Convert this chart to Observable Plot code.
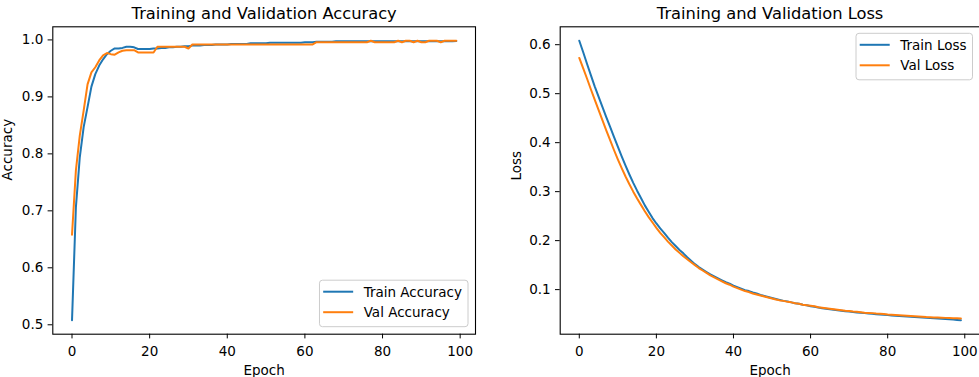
<!DOCTYPE html>
<html><head><meta charset="utf-8">
<script src="https://cdn.jsdelivr.net/npm/d3@7"></script>
<script src="https://cdn.jsdelivr.net/npm/@observablehq/plot@0.6"></script>
<style>
body{margin:0;background:#fff;overflow:hidden}
#wrap{position:relative;width:979px;height:377px;overflow:hidden;background:#fff}
#left,#right{position:absolute;top:0}
#left{left:0;width:490px}
#right{left:490px;width:500px}
svg{max-width:none !important}
</style></head><body><div id="wrap"><div id="left"></div><div id="right"></div></div>
<script>
const epochTicks = [0, 20, 40, 60, 80, 100];
const accTicks = [0.5, 0.6, 0.7, 0.8, 0.9, 1.0];
const lossTicks = [0.1, 0.2, 0.3, 0.4, 0.5, 0.6];

const trainAcc = [
  0.508,0.706,0.794,0.847,0.882,0.918,0.940,0.955,0.966,0.975,0.981,0.985,
  0.985,0.986,0.988,0.988,0.987,0.984,0.984,0.984,0.984,0.985,
  0.985,0.986,0.986,0.987,0.987,0.988,0.988,0.989,0.989,0.990,
  0.990,0.990,0.991,0.991,0.991,0.992,0.992,0.992,0.992,0.993,
  0.993,0.993,0.993,0.993,0.994,0.994,0.994,0.994,0.994,0.995,
  0.995,0.995,0.995,0.995,0.995,0.995,0.995,0.995,0.996,0.996,
  0.996,0.997,0.997,0.997,0.997,0.997,0.9975,0.9975,0.9975,0.9975,
  0.9975,0.9975,0.9975,0.9975,0.9975,0.9975,0.9975,0.9975,0.9975,0.9975,
  0.9975,0.9975,0.9975,0.9975,0.9975,0.9975,0.9975,0.9975,0.9975,0.9975,
  0.9975,0.9975,0.9975,0.9975,0.9975,0.9975,0.9975,0.998
];
const valAcc = [
  0.658,0.771,0.832,0.876,0.922,0.943,0.952,0.964,0.973,0.977,0.975,0.974,
  0.978,0.981,0.982,0.982,0.982,0.978,0.978,0.978,0.978,0.978,
  0.988,0.988,0.988,0.988,0.988,0.988,0.988,0.988,0.985,0.992,
  0.992,0.992,0.992,0.992,0.992,0.992,0.992,0.992,0.992,0.992,
  0.992,0.992,0.992,0.992,0.992,0.992,0.992,0.992,0.992,0.992,
  0.992,0.992,0.992,0.992,0.992,0.992,0.992,0.992,0.992,0.992,
  0.992,0.996,0.996,0.996,0.996,0.996,0.996,0.996,0.996,0.996,
  0.996,0.996,0.996,0.996,0.996,0.9985,0.996,0.996,0.996,0.996,
  0.996,0.996,0.9985,0.996,0.9985,0.9985,0.996,0.9985,0.996,0.996,
  0.9985,0.9985,0.9985,0.996,0.9985,0.9985,0.9985,0.9985
];
const trainLoss = [
  0.608,0.585,0.561,0.538,0.515,0.494,0.473,0.452,0.432,0.412,
  0.392,0.372,0.353,0.335,0.318,0.302,0.287,0.272,0.259,0.246,
  0.235,0.225,0.216,0.206,0.197,0.189,0.181,0.174,0.166,0.159,
  0.152,0.146,0.141,0.136,0.131,0.127,0.123,0.119,0.115,0.112,
  0.108,0.105,0.102,0.099,0.097,0.094,0.092,0.089,0.087,0.085,
  0.083,0.081,0.079,0.077,0.076,0.074,0.072,0.071,0.069,0.068,
  0.066,0.065,0.0635,0.062,0.061,0.060,0.059,0.058,0.057,0.056,
  0.0552,0.0544,0.0535,0.0527,0.052,0.0512,0.0505,0.0498,0.049,0.0485,
  0.048,0.0474,0.0468,0.0462,0.0456,0.045,0.0445,0.044,0.0435,0.043,
  0.0425,0.042,0.0415,0.041,0.0405,0.040,0.0395,0.0388,0.0381,0.0375
];
const valLoss = [
  0.573,0.552,0.531,0.509,0.488,0.467,0.446,0.425,0.405,0.385,
  0.366,0.348,0.331,0.315,0.300,0.286,0.273,0.260,0.248,0.237,
  0.226,0.216,0.207,0.198,0.190,0.182,0.175,0.168,0.162,0.156,
  0.150,0.144,0.139,0.134,0.129,0.125,0.121,0.117,0.113,0.110,
  0.106,0.103,0.100,0.097,0.095,0.092,0.090,0.088,0.086,0.084,
  0.082,0.080,0.078,0.077,0.075,0.074,0.072,0.071,0.069,0.068,
  0.067,0.066,0.064,0.063,0.062,0.061,0.060,0.059,0.058,0.057,
  0.0565,0.0555,0.055,0.054,0.053,0.0525,0.052,0.051,0.0505,0.050,
  0.049,0.0485,0.048,0.0475,0.047,0.0465,0.046,0.0455,0.045,0.0445,
  0.044,0.0437,0.0433,0.043,0.0427,0.0423,0.042,0.0417,0.0413,0.041
];

const BLUE = "#1f77b4", ORANGE = "#ff7f0e";
const FS = 13.5;

function mplDomain(arrays) {
  const all = arrays.flat();
  const lo = d3.min(all), hi = d3.max(all), m = (hi - lo) * 0.05;
  return [lo - m, hi + m];
}

function panel({el, width, marginLeft, marginRight, yTicks, a, b, names, title, ylabel, ylabelDx, legendLoc}) {
  const n = a.length;
  const rowsA = a.map((v, i) => ({epoch: i, value: v}));
  const rowsB = b.map((v, i) => ({epoch: i, value: v}));
  const height = 377, marginTop = 26.3, marginBottom = 43.3;
  const xm = (n - 1) * 0.05;
  const svg = Plot.plot({
    width, height, marginLeft, marginRight, marginTop, marginBottom,
    style: {fontFamily: "DejaVu Sans", fontSize: FS + "px", color: "black", background: "white", overflow: "visible", maxWidth: "none"},
    x: {domain: [-xm, n - 1 + xm], label: null},
    y: {domain: mplDomain([a, b]), label: null},
    marks: [
      Plot.line(rowsA, {x: "epoch", y: "value", stroke: BLUE, strokeWidth: 2}),
      Plot.line(rowsB, {x: "epoch", y: "value", stroke: ORANGE, strokeWidth: 2}),
      Plot.frame({stroke: "black", strokeWidth: 1.1}),
      Plot.axisX({ticks: epochTicks, tickSize: 4.7, tickPadding: 7.4, tickFormat: d3.format("d"), label: null}),
      Plot.axisY({ticks: yTicks, tickSize: 4.7, tickPadding: 4.8, tickFormat: d3.format(".1f"), label: null}),
      Plot.text([title], {text: d => d, frameAnchor: "top", lineAnchor: "bottom", dy: -8.3, fontSize: 16.3}),
      Plot.text(["Epoch"], {text: d => d, frameAnchor: "bottom", lineAnchor: "bottom", dy: 40.3}),
      Plot.text([ylabel], {text: d => d, frameAnchor: "left", lineAnchor: "bottom", rotate: -90, dx: ylabelDx})
    ]
  });
  document.getElementById(el).appendChild(svg);

  // legend (matplotlib-style box)
  const frame = {left: marginLeft, right: width - marginRight, top: marginTop, bottom: height - marginBottom};
  const g = d3.select(svg).append("g").attr("text-anchor", "start");
  const rect = g.append("rect");
  const padL = 3.7, hl = 30, gap = 10.5, padR = 6, h = 46.5, inset = 7, row1 = 11.5, rowH = 20.5;
  const texts = names.map(nm => g.append("text").text(nm)
      .attr("text-anchor", "start")
      .attr("font-family", "DejaVu Sans").attr("font-size", FS).attr("fill", "black"));
  const tw = d3.max(texts, t => t.node().getComputedTextLength());
  const w = padL + hl + gap + tw + padR;
  const x0 = frame.right - inset - w;
  const y0 = legendLoc === "lower right" ? frame.bottom - inset - h : frame.top + inset;
  rect.attr("x", x0).attr("y", y0).attr("width", w).attr("height", h)
      .attr("rx", 3).attr("fill", "white").attr("fill-opacity", 0.8)
      .attr("stroke", "#cccccc").attr("stroke-width", 1);
  [BLUE, ORANGE].forEach((c, i) => {
    const yy = y0 + row1 + i * rowH;
    g.append("line").attr("x1", x0 + padL).attr("x2", x0 + padL + hl)
      .attr("y1", yy).attr("y2", yy).attr("stroke", c).attr("stroke-width", 2);
    texts[i].attr("x", x0 + padL + hl + gap).attr("y", yy + 0.365 * FS);
  });
}

panel({el: "left", width: 490, marginLeft: 52.3, marginRight: 15, yTicks: accTicks,
  a: trainAcc, b: valAcc, names: ["Train Accuracy", "Val Accuracy"],
  title: "Training and Validation Accuracy", ylabel: "Accuracy", ylabelDx: -40.8, legendLoc: "lower right"});
panel({el: "right", width: 500, marginLeft: 69.7, marginRight: 10.5, yTicks: lossTicks,
  a: trainLoss, b: valLoss, names: ["Train Loss", "Val Loss"],
  title: "Training and Validation Loss", ylabel: "Loss", ylabelDx: -39.5, legendLoc: "upper right"});
</script>
</body></html>
